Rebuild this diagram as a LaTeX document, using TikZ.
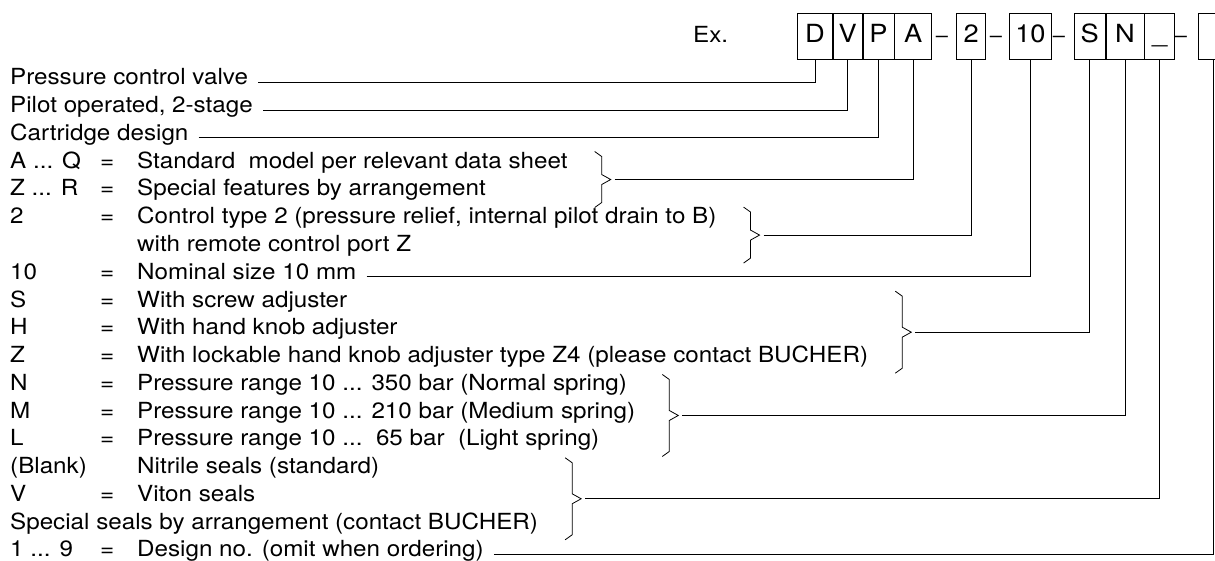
\documentclass[tikz,border=0pt]{standalone}
\usepackage{fontspec}
\setmainfont{TeX Gyre Heros}[FakeStretch=1.09]
\usetikzlibrary{calc,positioning}
\newcommand{\rowfont}{\fontsize{22.2}{26}\selectfont}
\newcommand{\boxfont}{\fontsize{25}{30}\selectfont}
\tikzset{keytext/.style={anchor=base west, inner sep=0pt, font=\rowfont}}
\tikzset{codebox/.style={draw, line width=0.8pt, minimum height=46pt, inner sep=0pt, text height=16pt, text depth=2pt, font=\boxfont}}
\tikzset{sep/.style={anchor=base, inner sep=0pt, font=\fontsize{20}{24}\selectfont}}
\tikzset{lead/.style={line width=0.8pt}}
\tikzset{pics/selbrace/.style={code={
  \draw[lead] (-16,-#1) -- (-9,5-#1) -- (-9,-5) -- (0,0) -- (-9,5) -- (-9,#1-5) -- (-16,#1);
  \coordinate (-tip) at (0,0);
}}}

\begin{document}
\begin{tikzpicture}[x=1pt,y=-1pt]
  \path[use as bounding box, fill=white] (0,0) rectangle (1215,561);
  % type code
  \node[keytext] (ex) at (693,43) {Ex.};
  \node[codebox, minimum width=35pt, anchor=west] (boxD) at (797,36) {D};
  \node[codebox, minimum width=29pt, right=0pt of boxD] (boxV) {V};
  \node[codebox, minimum width=31pt, right=0pt of boxV] (boxP) {P};
  \node[codebox, minimum width=37pt, right=0pt of boxP] (boxA) {A};
  \node[codebox, minimum width=29pt, right=24pt of boxA] (box2) {2};
  \node[codebox, minimum width=42pt, right=23pt of box2] (box10) {10};
  \node[codebox, minimum width=31pt, right=22pt of box10] (boxS) {S};
  \node[codebox, minimum width=38pt, right=0pt of boxS] (boxN) {N};
  \node[codebox, minimum width=30pt, right=0pt of boxN] (boxSeal) {\_};
  \node[codebox, minimum width=30pt, right=23pt of boxSeal] (boxDes) {};
  \node[sep] (dash1) at (942,43) {--};
  \node[sep] (dash2) at (996,43) {--};
  \node[sep] (dash3) at (1059,43) {--};
  \node[sep] (dash4) at (1181,43) {--};

  % key rows
  \node[keytext] (pcv) at (10,85) {Pressure control valve};
  \node[keytext] (pilot) at (10,112.8) {Pilot operated, 2-stage};
  \node[keytext] (cart) at (10,140.5) {Cartridge design};
  \node[keytext] (codeAQ) at (10,168.3) {A ... Q};
  \node[keytext] (eqAQ) at (100,168.3) {=};
  \node[keytext] (aq) at (137,168.3) {Standard\ \ model per relevant data sheet};
  \node[keytext] (codeZR) at (10,196) {Z ... R};
  \node[keytext] (eqZR) at (100,196) {=};
  \node[keytext] (zr) at (137,196) {Special features by arrangement};
  \node[keytext] (code2) at (10,223.8) {2};
  \node[keytext] (eq2) at (100,223.8) {=};
  \node[keytext] (ct) at (137,223.8) {Control type 2 (pressure relief, internal pilot drain to B)};
  \node[keytext] (remote) at (137,251.6) {with remote control port Z};
  \node[keytext] (code10) at (10,279.3) {10};
  \node[keytext] (eq10) at (100,279.3) {=};
  \node[keytext] (size) at (137,279.3) {Nominal size 10 mm};
  \node[keytext] (codeS) at (10,307.1) {S};
  \node[keytext] (eqS) at (100,307.1) {=};
  \node[keytext] (screw) at (137,307.1) {With screw adjuster};
  \node[keytext] (codeH) at (10,334.8) {H};
  \node[keytext] (eqH) at (100,334.8) {=};
  \node[keytext] (knob) at (137,334.8) {With hand knob adjuster};
  \node[keytext] (codeZ) at (10,362.6) {Z};
  \node[keytext] (eqZ) at (100,362.6) {=};
  \node[keytext] (lock) at (137,362.6) {With lockable hand knob adjuster type Z4 (please contact BUCHER)};
  \node[keytext] (codeN) at (10,390.4) {N};
  \node[keytext] (eqN) at (100,390.4) {=};
  \node[keytext] (pn) at (137,390.4) {Pressure range 10 ... 350 bar (Normal spring)};
  \node[keytext] (codeM) at (10,418.1) {M};
  \node[keytext] (eqM) at (100,418.1) {=};
  \node[keytext] (pm) at (137,418.1) {Pressure range 10 ... 210 bar (Medium spring)};
  \node[keytext] (codeL) at (10,445.9) {L};
  \node[keytext] (eqL) at (100,445.9) {=};
  \node[keytext] (pl) at (137,445.9) {Pressure range 10 ...\ \ 65 bar\ \ (Light spring)};
  \node[keytext] (codeBl) at (10,473.6) {(Blank)};
  \node[keytext] (nitrile) at (137,473.6) {Nitrile seals (standard)};
  \node[keytext] (codeV) at (10,501.4) {V};
  \node[keytext] (eqV) at (100,501.4) {=};
  \node[keytext] (viton) at (137,501.4) {Viton seals};
  \node[keytext] (seals) at (10,529.2) {Special seals by arrangement (contact BUCHER)};
  \node[keytext] (code19) at (10,556.9) {1 ... 9};
  \node[keytext] (eq19) at (100,556.9) {=};
  \node[keytext] (design) at (137,556.9) {Design no. (omit when ordering)};

  % braces
  \path ($(aq.mid)!.5!(zr.mid)$) coordinate (mAQ);
  \path ($(ct.mid)!.5!(remote.mid)$) coordinate (mCT);
  \path (knob.mid) coordinate (mAdj);
  \path (pm.mid) coordinate (mRange);
  \path (viton.mid) coordinate (mSeal);
  \pic (brAQ) at ($(aq.east |- mAQ)+(43,0)$) {selbrace=28};
  \pic (brCT) at ($(ct.east |- mCT)+(43,0)$) {selbrace=28};
  \pic (brAdj) at ($(lock.east |- mAdj)+(43,0)$) {selbrace=41};
  \pic (brRange) at ($(pm.east |- mRange)+(43,0)$) {selbrace=41};
  \pic (brSeal) at ($(seals.east |- mSeal)+(43,0)$) {selbrace=41};

  % leads
  \draw[lead] ([xshift=10pt]pcv.mid east) -| (boxD.south);
  \draw[lead] ([xshift=10pt]pilot.mid east) -| (boxV.south);
  \draw[lead] ([xshift=10pt]cart.mid east) -| (boxP.south);
  \draw[lead] ([xshift=4pt]brAQ-tip) -| (boxA.south);
  \draw[lead] ([xshift=4pt]brCT-tip) -| (box2.south);
  \draw[lead] ([xshift=10pt]size.mid east) -| (box10.south);
  \draw[lead] ([xshift=4pt]brAdj-tip) -| (boxS.south);
  \draw[lead] ([xshift=4pt]brRange-tip) -| (boxN.south);
  \draw[lead] ([xshift=4pt]brSeal-tip) -| (boxSeal.south);
  \draw[lead] ([xshift=10pt]design.mid east) -| (boxDes.south);
\end{tikzpicture}
\end{document}
